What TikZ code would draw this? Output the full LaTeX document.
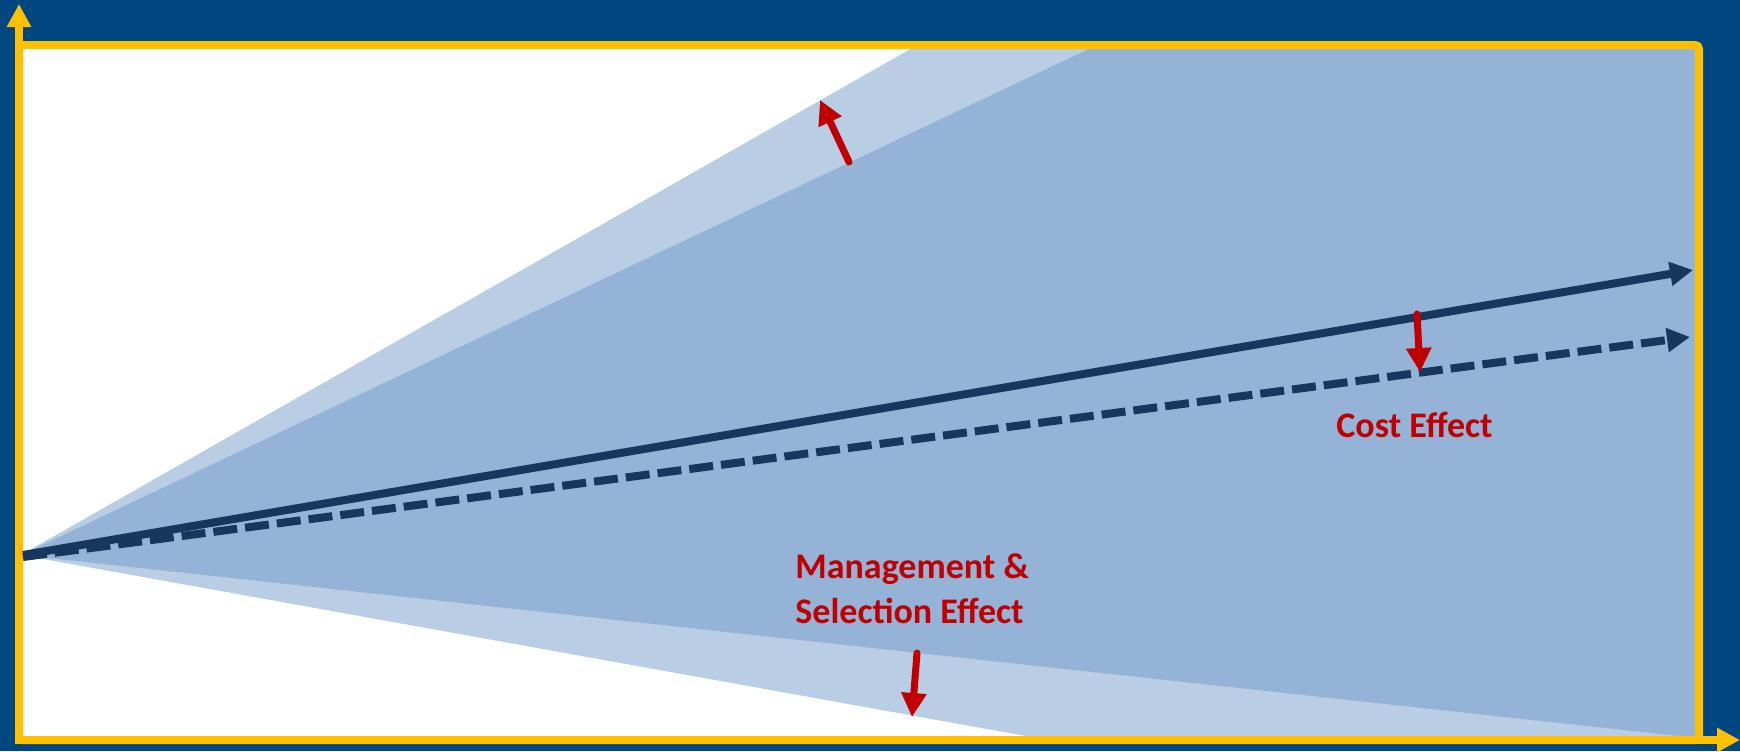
\documentclass[tikz,border=0pt]{standalone}
\usepackage{fontspec}
\setmainfont{Carlito}
\usetikzlibrary{arrows.meta}
\definecolor{bgblue}{RGB}{0,70,128}
\definecolor{axisyellow}{RGB}{255,192,0}
\definecolor{lightfan}{RGB}{185,205,229}
\definecolor{midfan}{RGB}{149,179,215}
\definecolor{navy}{RGB}{23,55,94}
\definecolor{effectred}{RGB}{192,0,0}
\tikzset{
  axisline/.style={draw=axisyellow, line width=4pt, -{Triangle[length=11.5pt,width=11.5pt]}},
  trendsolid/.style={draw=navy, line width=4pt, -{Triangle[length=11.5pt,width=11.5pt]}},
  trenddashed/.style={draw=navy, line width=4pt, dash pattern=on 12pt off 4pt, -{Triangle[length=11.5pt,width=11.5pt]}},
  shiftarrow/.style={draw=effectred, line width=3.5pt, line cap=round, -{Triangle[length=12pt,width=12pt]}},
  effectlabel/.style={text=effectred, font=\bfseries\fontsize{18}{22.5}\selectfont, inner sep=0pt, align=left}
}
\begin{document}
\begin{tikzpicture}[x=0.5pt,y=-0.5pt]
\useasboundingbox (0,0) rectangle (1740,751);
\fill[bgblue] (0,0) rectangle (1740,751);
\fill[white] (19,45) rectangle (1699,740);
% fans
\fill[lightfan] (21,555) -- (914,47) -- (1697,47) -- (1697,738) -- (1037,738) -- cycle;
\fill[midfan] (21,555) -- (1093,47) -- (1697,47) -- (1697,738) -- cycle;
% frame
\draw[axisyellow, line width=4pt, rounded corners=2pt] (19,45) rectangle (1699,740);
% axes
\coordinate (org) at (19,743);
\coordinate (ytip) at (19,4);
\coordinate (xstart) at (15,740);
\coordinate (xtip) at (1740,740);
\draw[axisline] (org) -- (ytip);
\draw[axisline] (xstart) -- (xtip);
% trend arrows
\coordinate (o1) at (23,555);
\coordinate (t1) at (1693,270);
\coordinate (o2) at (23,557);
\coordinate (t2) at (1690,337);
\draw[trenddashed] (o2) -- (t2);
\draw[trendsolid] (o1) -- (t1);
% red arrows
\coordinate (ua) at (849,162);
\coordinate (ub) at (820,100);
\draw[shiftarrow] (ua) -- (ub);
\coordinate (ca) at (1417,314);
\coordinate (cb) at (1420,372);
\draw[shiftarrow] (ca) -- (cb);
\coordinate (ma) at (917,653);
\coordinate (mb) at (912,717);
\draw[shiftarrow] (ma) -- (mb);
% labels
\node[effectlabel, anchor=base west] (cost) at (1336,437) {Cost Effect};
\node[effectlabel, anchor=base west] (mgmt) at (795,623) {Management \&\\Selection Effect};
\end{tikzpicture}
\end{document}
